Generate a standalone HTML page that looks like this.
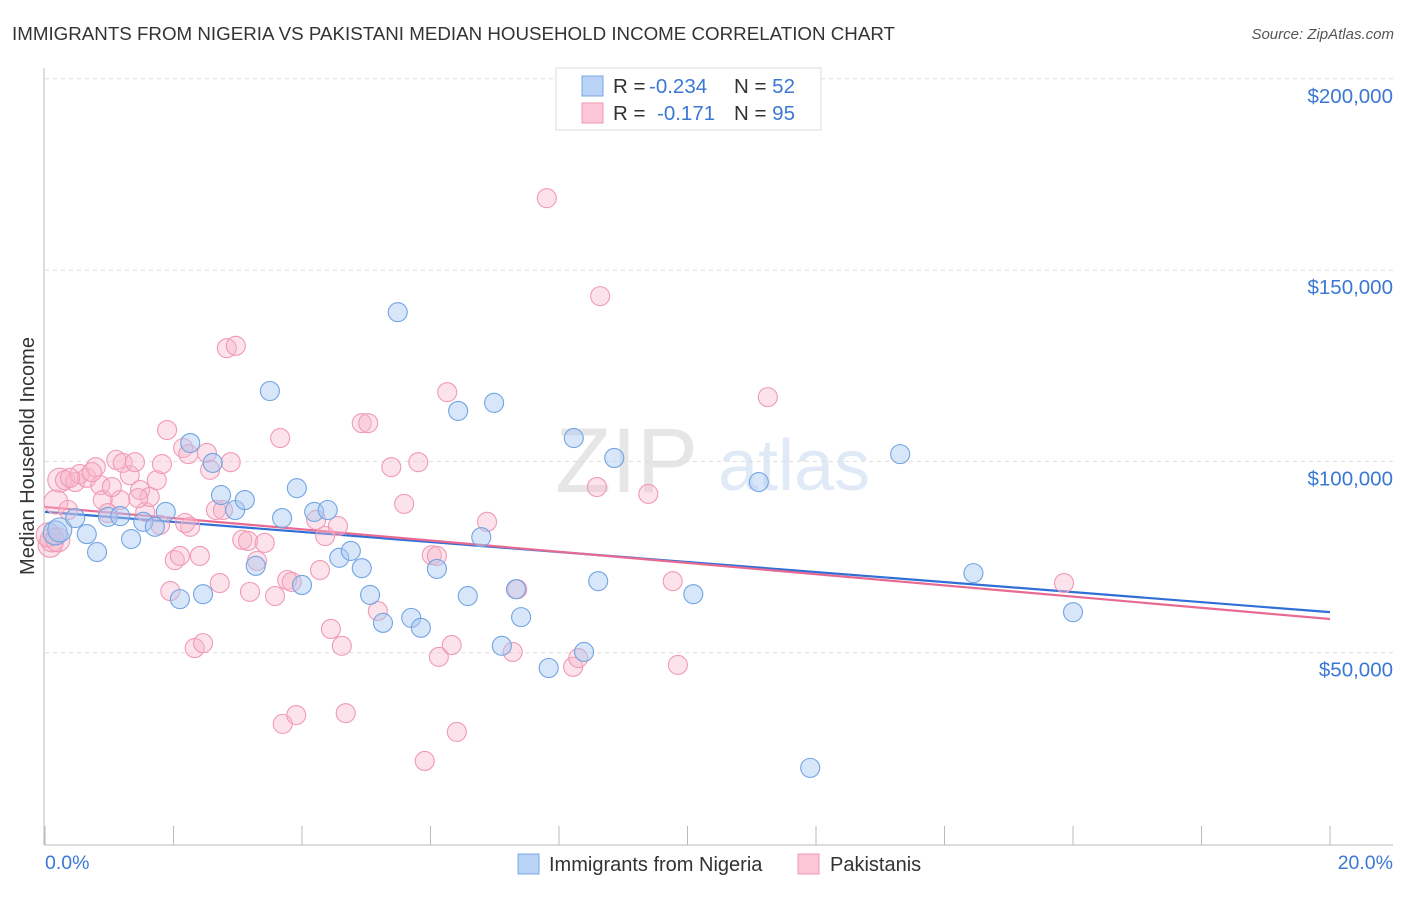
<!DOCTYPE html>
<html><head><meta charset="utf-8"><style>
body{margin:0;background:#fff;font-family:"Liberation Sans",sans-serif;}
svg text{font-family:"Liberation Sans",sans-serif;}
</style></head><body>
<svg id="c" width="1406" height="892">
<text x="12" y="40" font-size="18" fill="#333" textLength="883" lengthAdjust="spacingAndGlyphs">IMMIGRANTS FROM NIGERIA VS PAKISTANI MEDIAN HOUSEHOLD INCOME CORRELATION CHART</text>
<text x="1394" y="39" font-size="15" fill="#555" font-style="italic" text-anchor="end">Source: ZipAtlas.com</text>
<g opacity="0.18"><text x="555" y="492" font-size="92" font-family="Liberation Serif" fill="#777">ZIP</text><text x="718" y="490" font-size="72" fill="#5b8ed6">atlas</text></g>
<g id="grid"></g>
<g id="axes"></g>
<g id="trend"></g>
<g id="pts"></g>
<text transform="translate(34,456) rotate(-90)" font-size="20" fill="#333" text-anchor="middle">Median Household Income</text>
<text x="45" y="869" font-size="19.5" fill="#3b78d4">0.0%</text>
<text x="1393" y="869" font-size="19.5" fill="#3b78d4" text-anchor="end">20.0%</text>
<g>
<rect x="556" y="68" width="265" height="62" fill="#fff" stroke="#ddd"/>
<rect x="582" y="76" width="21" height="20" fill="#b8d3f5" stroke="#7aa7e3"/>
<rect x="582" y="103" width="21" height="20" fill="#fbc6d6" stroke="#ef9ab5"/>
<text x="613" y="93" font-size="20.5" fill="#333">R = <tspan fill="#3b78d4" x="649">-0.234</tspan></text>
<text x="734" y="93" font-size="20.5" fill="#333">N = <tspan fill="#3b78d4">52</tspan></text>
<text x="613" y="120" font-size="20.5" fill="#333">R = <tspan fill="#3b78d4" x="657">-0.171</tspan></text>
<text x="734" y="120" font-size="20.5" fill="#333">N = <tspan fill="#3b78d4">95</tspan></text>
</g>
<g>
<rect x="518" y="854" width="21" height="20" fill="#b8d3f5" stroke="#7aa7e3"/>
<text x="549" y="871" font-size="20" fill="#333">Immigrants from Nigeria</text>
<rect x="798" y="854" width="21" height="20" fill="#fbc6d6" stroke="#ef9ab5"/>
<text x="830" y="871" font-size="20" fill="#333">Pakistanis</text>
</g>
</svg>
<script>
const yTicks=[50,100,150,200];
const yTickLabels=["$50,000","$100,000","$150,000","$200,000"];
const xTicks=[0,2,4,6,8,10,12,14,16,18,20];
const blueX=[0.16,0.23,0.47,0.65,0.81,0.98,1.17,1.34,1.53,1.71,1.88,2.10,2.26,2.46,2.61,2.74,2.96,3.11,3.28,3.50,3.69,3.92,4.00,4.19,4.40,4.58,4.76,4.93,5.06,5.26,5.49,5.70,5.85,6.10,6.43,6.58,6.79,6.99,7.11,7.33,7.41,7.84,8.23,8.39,8.61,8.86,10.09,11.11,11.91,13.31,14.45,16.00];
const blueY=[81.3,82.1,85.2,81.0,76.3,85.5,85.7,79.7,84.2,82.9,86.8,64.0,104.8,65.3,99.6,91.2,87.3,89.9,72.7,118.4,85.2,93.0,67.7,86.8,87.3,74.8,76.6,72.1,65.1,57.8,139.0,59.1,56.5,71.9,113.2,64.8,80.2,115.3,51.8,66.6,59.3,46.0,106.1,50.2,68.7,100.9,65.3,94.6,19.9,101.9,70.8,60.6];
const pinkX=[0.08,0.11,0.17,0.23,0.31,0.36,0.47,0.54,0.65,0.79,0.86,0.90,0.98,1.11,1.17,1.21,1.32,1.40,1.48,1.56,1.63,1.74,1.82,1.90,2.02,2.10,2.15,2.23,2.26,2.33,2.41,2.46,2.52,2.57,2.66,2.72,2.77,2.83,2.89,2.97,3.07,3.16,3.19,3.30,3.42,3.58,3.66,3.70,3.77,3.84,3.91,4.22,4.28,4.36,4.45,4.56,4.62,4.68,4.93,5.03,5.18,5.39,5.59,5.81,5.91,6.02,6.13,6.10,6.26,6.33,6.41,6.88,7.28,7.35,7.81,8.22,8.30,8.59,8.64,9.39,9.77,9.85,11.25,15.86,0.05,0.20,0.39,0.73,1.04,1.45,1.79,1.95,2.18];
const pinkY=[78.1,79.5,89.4,95.1,95.1,87.3,94.6,96.7,95.7,98.5,93.8,89.9,86.5,100.4,89.9,99.6,96.4,99.8,92.5,86.8,90.7,95.1,99.3,108.2,74.2,75.3,103.5,101.9,82.9,51.2,75.3,52.5,102.2,97.8,87.3,68.2,87.3,129.6,99.8,130.2,79.5,79.2,65.9,74.0,78.7,64.8,106.1,31.4,69.0,68.5,33.7,84.7,71.6,80.5,56.2,83.1,51.8,34.2,110.0,110.0,60.9,98.5,88.9,99.8,21.7,75.5,48.9,75.3,118.1,52.0,29.3,84.2,50.2,66.6,168.8,46.3,48.6,93.3,143.2,91.5,68.7,46.8,116.8,68.2,80.8,79.5,95.7,97.2,93.3,90.4,83.4,66.1,83.9];
const blueTrend=[86.8,60.6];
const pinkTrend=[88.1,58.8];
const NS="http://www.w3.org/2000/svg";
const X0=45,X1=1330,Y0=844,YK=3.826;
function sx(v){return X0+(X1-X0)*v/20;}
function sy(v){return Y0-v*YK;}
function mk(tag,at,parent){const e=document.createElementNS(NS,tag);for(const k in at)e.setAttribute(k,at[k]);document.getElementById(parent).appendChild(e);return e;}
yTicks.forEach((t,i)=>{
 const l=mk('line',{x1:45,x2:1393,y1:sy(t),y2:sy(t),stroke:'#ddd','stroke-dasharray':'4,4'},'grid');
 
 
 const tx=mk('text',{x:1393,y:sy(t)+24,'font-size':20.5,fill:'#3b78d4','text-anchor':'end'},'grid');
 tx.textContent=yTickLabels[i];
 
 
});
const ya=mk('line',{x1:44,x2:44,y1:68,y2:845,stroke:'#bbb'},'axes');


const xa=mk('line',{x1:44,x2:1393,y1:845,y2:845,stroke:'#bbb'},'axes');


xTicks.forEach(t=>{
 const l=mk('line',{x1:sx(t),x2:sx(t),y1:845,y2:826,stroke:'#bbb'},'axes');
 
 
});
function pts(xs,ys,fill,stroke,name){
 xs.forEach((x,i)=>{
  const r=x<0.3?12:9.5;
  const c=mk('circle',{cx:sx(x),cy:sy(ys[i]),r:r,fill:fill,stroke:stroke,'stroke-width':1.1},'pts');
  
  
 });
}
pts(pinkX,pinkY,'rgba(248,182,202,0.4)','#f09ab6','pakistanis-point');
pts(blueX,blueY,'rgba(168,200,242,0.45)','#72a4e2','nigeria-point');
const bt=mk('line',{x1:sx(0),x2:sx(20),y1:sy(blueTrend[0]),y2:sy(blueTrend[1]),stroke:'#2f6fd6','stroke-width':2.2},'trend');


const pt=mk('line',{x1:sx(0),x2:sx(20),y1:sy(pinkTrend[0]),y2:sy(pinkTrend[1]),stroke:'#e86a92','stroke-width':2.2},'trend');


</script>
</body></html>
